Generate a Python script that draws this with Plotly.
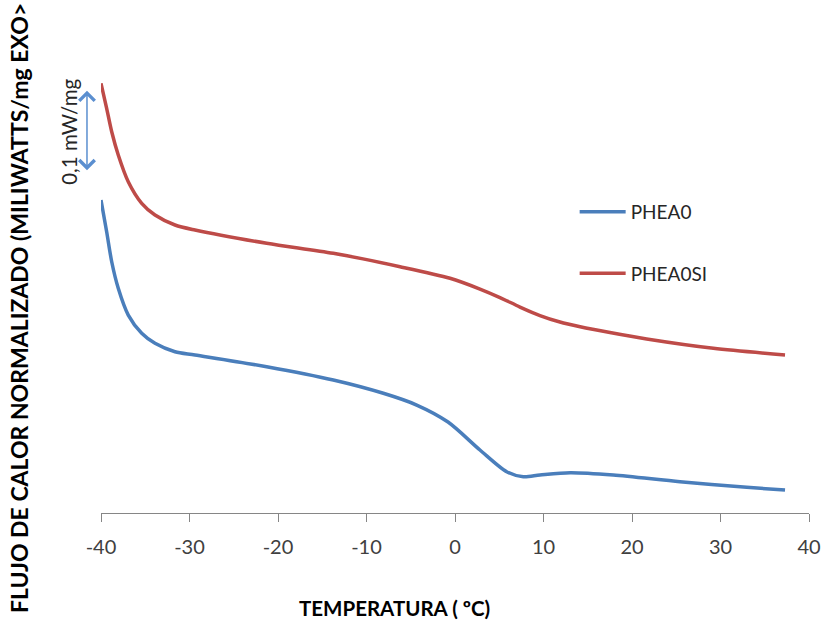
import plotly.graph_objects as go

# Temperature (ºC) and normalized heat flow (mW/mg, arbitrary offset)
temp_phea0 = [-40.0, -39.36, -38.79, -38.05, -36.92, -35.40, -33.90, -31.64, -29.38,
              -21.28, -13.75, -8.10, -4.33, -0.79, 2.82, 5.84, 7.72, 9.60, 13.01,
              17.89, 25.42, 32.96, 37.29]
flow_phea0 = [0.3864, 0.3473, 0.3102, 0.2774, 0.2444, 0.2219, 0.2095, 0.1991, 0.1951,
              0.1806, 0.1642, 0.1478, 0.1333, 0.1123, 0.0778, 0.0510, 0.0448, 0.0469, 0.0498,
              0.0469, 0.0386, 0.0317, 0.0284]

temp_phea0si = [-40.0, -39.36, -38.79, -38.05, -36.92, -35.40, -33.90, -31.64, -29.38,
                -21.28, -13.75, -6.21, -0.56, 2.82, 5.08, 7.34, 9.60, 11.86, 14.14, 17.51,
                21.66, 29.19, 37.29]
flow_phea0si = [0.5305, 0.4996, 0.4707, 0.4420, 0.4090, 0.3823, 0.3679, 0.3556, 0.3494,
                0.3330, 0.3206, 0.3041, 0.2898, 0.2765, 0.2660, 0.2543, 0.2438, 0.2358, 0.2300,
                0.2228, 0.2148, 0.2033, 0.1951]

x_ticks = [-40, -30, -20, -10, 0, 10, 20, 30, 40]
scale_top = 0.5214
scale_len = 0.1

FONT = "Lato"

fig = go.Figure()
fig.add_trace(go.Scatter(x=temp_phea0, y=flow_phea0, mode="lines", name="PHEA0",
                         legendgroup="a",
                         line=dict(color="#4A7EBB", width=3.5, shape="spline", smoothing=0.8)))
fig.add_trace(go.Scatter(x=temp_phea0si, y=flow_phea0si, mode="lines", name="PHEA0SI",
                         legendgroup="b",
                         line=dict(color="#BE4B48", width=3.5, shape="spline", smoothing=0.8)))

fig.update_layout(
    width=824, height=624,
    margin=dict(l=101, r=15, t=40, b=111, autoexpand=False),
    paper_bgcolor="white", plot_bgcolor="white",
    font=dict(family=FONT, color="#404040"),
    showlegend=True,
    legend=dict(x=0.669, y=0.677, xanchor="left", yanchor="top",
                font=dict(family=FONT, size=19, color="#262626"),
                itemwidth=46,
                tracegroupgap=34, bgcolor="rgba(0,0,0,0)"),
    xaxis=dict(range=[-40, 40], tickvals=x_ticks, ticktext=[str(v) for v in x_ticks],
               automargin=False,
               showgrid=False, zeroline=False, showline=True, linecolor="#868686", linewidth=1,
               ticks="outside", ticklen=8, tickcolor="#868686", tickwidth=1,
               ticklabelstandoff=8,
               tickfont=dict(family=FONT, size=20, color="#404040")),
    yaxis=dict(range=[0, 0.584], visible=False, automargin=False,
               showgrid=False, zeroline=False),
    annotations=[
        dict(xref="paper", yref="y", x=-0.0198, y=scale_top, ax=0, ay=81,
             axref="pixel", ayref="pixel", text="", showarrow=True,
             arrowside="end+start", arrowhead=4, arrowsize=2, arrowwidth=1.5,
             arrowcolor="#5B8FD0"),
        dict(xref="paper", yref="y", x=-0.0455, y=scale_top - scale_len / 2 - 0.001,
             xanchor="center", yanchor="middle",
             text="0,1 mW/mg", textangle=-90, showarrow=False,
             font=dict(family=FONT, size=20.5, color="#262626")),
        dict(xref="paper", yref="paper", x=-0.1158, y=0.4334,
             xanchor="center", yanchor="middle",
             text="<b>FLUJO DE CALOR NORMALIZADO (MILIWATTS/mg EXO></b>", textangle=-90,
             showarrow=False, font=dict(family=FONT, size=23, color="#000000")),
        dict(xref="paper", yref="paper", x=0.415, y=-0.2008,
             xanchor="center", yanchor="middle",
             text="<b>TEMPERATURA ( ºC)</b>", showarrow=False,
             font=dict(family=FONT, size=20.5, color="#000000")),
    ],
)

fig.write_html("out.html",
               config={"displayModeBar": False},
               post_script="document.body.style.margin='0';document.body.style.overflow='hidden';")
